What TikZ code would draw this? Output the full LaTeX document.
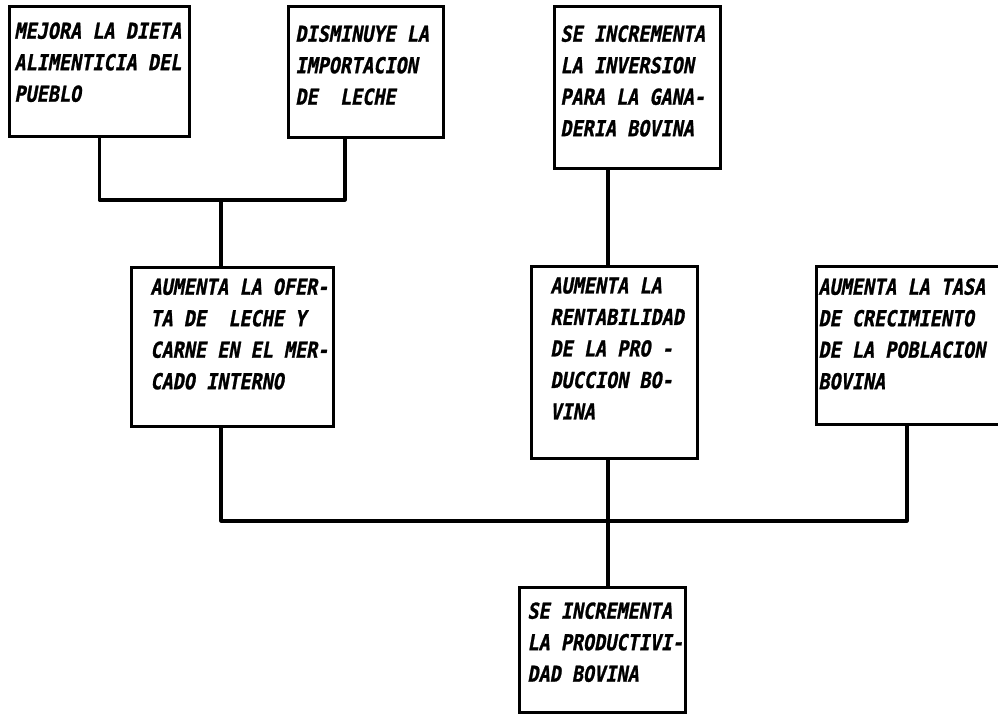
\documentclass[tikz,border=0pt]{standalone}
\usepackage{fontspec}
\newfontfamily\maquina[FakeStretch=0.84, FakeBold=1.1, FakeSlant=0.18]{DejaVu Sans Mono Bold}

\begin{document}
\begin{tikzpicture}[x=0.5pt, y=-0.5pt]
	\tikzstyle{caja} = [ draw, rectangle, line width=1.4pt, anchor=north west, inner sep=0pt];
	\tikzstyle{texto} = [ anchor=north west, align=left, inner sep=0pt, font={\fontsize{11}{15.75}\maquina}];
	\tikzstyle{linea} = [ line width=1.6pt, line join=round];

	\clip (0,0) rectangle (998,714);

	% fila de arriba
	\node[caja, minimum width=90pt, minimum height=65pt] (dieta) at (8,5) {};
	\node[caja, minimum width=77.5pt, minimum height=65.5pt] (importa) at (287,5) {};
	\node[caja, minimum width=83pt, minimum height=81pt] (inversion) at (553,5) {};

	% fila del medio
	\node[caja, minimum width=101pt, minimum height=79.5pt] (oferta) at (130,266) {};
	\node[caja, minimum width=83pt, minimum height=96pt] (rentab) at (530,265) {};
	\node[caja, minimum width=95pt, minimum height=79pt] (tasa) at (815,265) {};

	% abajo
	\node[caja, minimum width=83pt, minimum height=62.5pt] (productiv) at (518,586) {};

	\node[texto] (dieta-t) at ([shift={(6,17)}]dieta.north west) {MEJORA LA DIETA\\ALIMENTICIA DEL\\PUEBLO};
	\node[texto] (importa-t) at ([shift={(8,20)}]importa.north west) {DISMINUYE LA\\IMPORTACION\\DE\ \ LECHE};
	\node[texto] (inversion-t) at ([shift={(7,20)}]inversion.north west) {SE INCREMENTA\\LA INVERSION\\PARA LA GANA-\\DERIA BOVINA};
	\node[texto] (oferta-t) at ([shift={(20,12)}]oferta.north west) {AUMENTA LA OFER-\\TA DE\ \ LECHE Y\\CARNE EN EL MER-\\CADO INTERNO};
	\node[texto] (rentab-t) at ([shift={(20,12)}]rentab.north west) {AUMENTA LA\\RENTABILIDAD\\DE LA PRO -\\DUCCION BO-\\VINA};
	\node[texto] (tasa-t) at ([shift={(3,13)}]tasa.north west) {AUMENTA LA TASA\\DE CRECIMIENTO\\DE LA POBLACION\\BOVINA};
	\node[texto] (productiv-t) at ([shift={(9,16)}]productiv.north west) {SE INCREMENTA\\LA PRODUCTIVI-\\DAD BOVINA};

	\coordinate (j1) at (221,200);
	\coordinate (j2) at (608,521);
	\coordinate (j3) at (907,521);
	\coordinate (j4) at (221,521);

	\draw[linea] (dieta.south) |- (j1) -| ([xshift=-10.5pt]importa.south);
	\draw[linea] (j1) -- (j1 |- oferta.north);
	\draw[linea] (inversion.south -| j2) -- (rentab.north -| j2);
	\draw[linea] (oferta.south -| j4) -- (j4) -- (j3) -- (tasa.south -| j3);
	\draw[linea] (rentab.south -| j2) -- (productiv.north -| j2);

\end{tikzpicture}
\end{document}
